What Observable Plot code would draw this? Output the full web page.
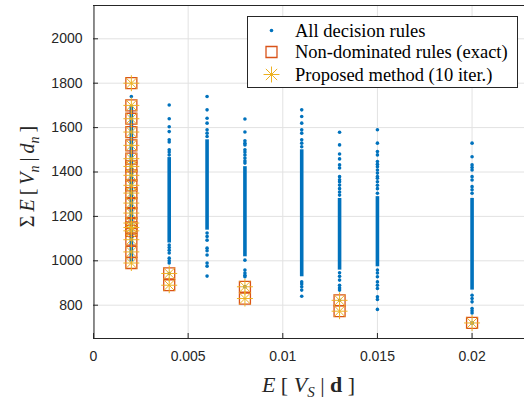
<!DOCTYPE html>
<html><head><meta charset="utf-8">
<script src="https://cdn.jsdelivr.net/npm/d3@7"></script>
<script src="https://cdn.jsdelivr.net/npm/@observablehq/plot@0.6"></script>
<style>
body{margin:0;background:#fff;}
#wrap{position:relative;width:524px;height:399px;overflow:hidden;}
#legend{position:absolute;left:247px;top:16px;}
</style></head><body><div id="wrap"></div>
<script>
// ---- data ----
const xTicks = [0, 0.005, 0.01, 0.015, 0.02];
const yTicks = [800, 1000, 1200, 1400, 1600, 1800, 2000];
const xDomain = [0, 0.02277];
const yDomain = [650, 2150];

// x positions of the decision-rule columns
const ruleColumns = [0.002, 0.004, 0.006, 0.008, 0.011, 0.013, 0.015, 0.02];
// isolated blue points per column
const ruleSparse = [
  [1740],
  [1702, 1640, 1604, 1582, 1545, 1535, 1500, 1490, 1477, 1071, 1060, 1048, 1035, 1012, 1000, 990, 943],
  [1740, 1680, 1642, 1620, 1590, 1575, 1560, 1125, 1110, 1093, 1057, 1045, 1026, 990, 976, 931],
  [1639, 1580, 1541, 1530, 1522, 1500, 1490, 1477, 1463, 1450, 1440, 1003, 958, 945, 935, 928, 883],
  [1680, 1650, 1620, 1590, 1575, 1545, 1530, 1514, 905, 895, 883, 868, 840],
  [1579, 1522, 1481, 1459, 1432, 1418, 1379, 1365, 1356, 1341, 1325, 1310, 1296, 946, 930, 913, 890, 878, 868, 822],
  [1590, 1530, 1492, 1477, 1447, 1435, 1424, 1409, 1395, 1380, 1372, 1356, 1340, 1325, 1304, 958, 945, 928, 905, 890, 875, 838, 826, 781],
  [1530, 1469, 1432, 1420, 1409, 1379, 1364, 1334, 1320, 1304, 845, 830, 815, 785, 775, 765, 720]
];
// densely packed stretches of blue points per column (low, high)
const ruleDenseLow  = [995, 1080, 1138, 1018, 928, 958, 973, 868];
const ruleDenseHigh = [1700, 1465, 1545, 1424, 1500, 1281, 1289, 1281];

// non-dominated rules (exact)
const nonDomColumns = [0.002, 0.004, 0.008, 0.013, 0.02];
const nonDomValues = [
  [1800, 1700, 1640, 1580, 1520, 1460, 1425, 1385, 1340, 1305, 1260, 1215, 1170, 1150, 1135, 1095, 1040, 990],
  [943, 890],
  [883, 830],
  [822, 773],
  [720]
];
// proposed method (10 iter.)
const proposedColumns = [0.002, 0.004, 0.008, 0.013, 0.02];
const proposedValues = [
  [1800, 1700, 1640, 1580, 1520, 1460, 1425, 1385, 1340, 1305, 1260, 1215, 1170, 1150, 1135, 1095, 1040, 990],
  [943, 890],
  [883, 830],
  [822, 773],
  [720]
];

// ---- build tables ----
const sparse = ruleColumns.flatMap((x, i) => ruleSparse[i].map(y => ({x, y})));
const dense = ruleColumns.map((x, i) => ({x, lo: ruleDenseLow[i], hi: ruleDenseHigh[i]}));
const nonDom = nonDomColumns.flatMap((x, i) => nonDomValues[i].map(y => ({x, y})));
const proposed = proposedColumns.flatMap((x, i) => proposedValues[i].map(y => ({x, y})));

const blue = "#0072BD", orange = "#D95319", yellow = "#EDB120", axisCol = "#262626", gridCol = "#e2e2e2";

const W = 524, H = 399, mL = 93, mR = 0, mT = 5, mB = 61;
const fw = W - mL - mR, fh = H - mT - mB;

const chart = Plot.plot({
  width: W, height: H,
  marginLeft: mL, marginRight: mR, marginTop: mT, marginBottom: mB,
  x: {domain: xDomain},
  y: {domain: yDomain},
  style: {fontFamily: "'Liberation Sans', Arial, sans-serif", fontSize: "14px", color: axisCol, background: "white"},
  marks: [
    Plot.gridX(xTicks, {stroke: gridCol, strokeOpacity: 1}),
    Plot.gridY(yTicks, {stroke: gridCol, strokeOpacity: 1}),
    Plot.ruleX(dense, {x: "x", y1: "lo", y2: "hi", stroke: blue, strokeWidth: 3.6}),
    Plot.dot(sparse, {x: "x", y: "y", r: 1.8, fill: blue}),
    Plot.dot(nonDom, {x: "x", y: "y", symbol: "square", r: 6.2, stroke: orange, strokeWidth: 1.3, fill: "none"}),
    Plot.dot(proposed, {x: "x", y: "y", symbol: "plus", r: 5.2, stroke: yellow, strokeWidth: 1}),
    Plot.dot(proposed, {x: "x", y: "y", symbol: "times", r: 5.2, stroke: yellow, strokeWidth: 1}),
    Plot.ruleX([xDomain[0]], {stroke: axisCol, dx: 0.5}),
    Plot.ruleY([yDomain[0]], {stroke: axisCol}),
    Plot.ruleY([yDomain[1]], {stroke: axisCol}),
    Plot.tickY(yTicks, {y: d => d, stroke: axisCol, insetRight: fw - 5}),
    Plot.tickX(xTicks, {x: d => d, stroke: axisCol, insetTop: fh - 5}),
    Plot.axisX(xTicks, {tickSize: 0, tickPadding: 13, label: null, tickFormat: d => String(d)}),
    Plot.axisY(yTicks, {tickSize: 0, tickPadding: 11, label: null, tickFormat: d => String(d)})
  ]
});
document.getElementById("wrap").appendChild(chart);

// ---- axis labels with math formatting ----
const svg = d3.select(chart);
const serif = "'Liberation Serif', 'Times New Roman', serif";
const xl = svg.append("text").attr("x", mL + fw / 2).attr("y", 392).attr("text-anchor", "middle")
  .attr("font-family", serif).attr("font-size", 22).attr("fill", axisCol);
xl.append("tspan").attr("font-style", "italic").text("E");
xl.append("tspan").text(" [ ");
xl.append("tspan").attr("font-style", "italic").text("V");
xl.append("tspan").attr("font-style", "italic").attr("font-size", 15).attr("dy", 5).text("S");
xl.append("tspan").attr("dy", -5).text(" | ");
xl.append("tspan").attr("font-weight", "bold").text("d");
xl.append("tspan").text(" ]");

const yl = svg.append("text").attr("transform", `translate(34,${mT + fh / 2 + 5}) rotate(-90)`).attr("text-anchor", "middle")
  .attr("font-family", serif).attr("font-size", 20).attr("fill", axisCol);
yl.append("tspan").text("\u03A3\u2009");
yl.append("tspan").attr("font-style", "italic").text("E");
yl.append("tspan").text("\u2009[\u2009");
yl.append("tspan").attr("font-style", "italic").text("V");
yl.append("tspan").attr("font-style", "italic").attr("font-size", 14).attr("dy", 5).text("n");
yl.append("tspan").attr("dy", -5).text("\u2009|\u2009");
yl.append("tspan").attr("font-style", "italic").text("d");
yl.append("tspan").attr("font-style", "italic").attr("font-size", 14).attr("dy", 5).text("n");
yl.append("tspan").attr("dy", -5).text("\u2009]");

// ---- legend ----
const legendItems = ["All decision rules", "Non-dominated rules (exact)", "Proposed method (10 iter.)"];
const leg = d3.select("#wrap").append("svg").attr("id", "legend").attr("width", 271).attr("height", 73);
leg.append("rect").attr("x", 0.5).attr("y", 0.5).attr("width", 270).attr("height", 71)
  .attr("fill", "white").attr("stroke", axisCol);
const rowY = [14.5, 36, 58.5];
leg.selectAll("text.lab").data(legendItems).join("text").attr("class", "lab")
  .attr("x", 48).attr("y", (d, i) => rowY[i] + 6)
  .attr("font-family", serif).attr("font-size", 18.5).attr("fill", "#000").text(d => d);
leg.append("circle").attr("cx", 24.5).attr("cy", rowY[0]).attr("r", 1.8).attr("fill", blue);
leg.append("path").attr("d", d3.symbol(d3.symbolSquare, Math.PI * 6.2 * 6.2)()).attr("transform", `translate(24.5,${rowY[1]})`)
  .attr("fill", "none").attr("stroke", orange).attr("stroke-width", 1.3);
leg.append("path").attr("d", d3.symbol(d3.symbolPlus, Math.PI * 5.2 * 5.2)()).attr("transform", `translate(24.5,${rowY[2]})`)
  .attr("fill", "none").attr("stroke", yellow);
leg.append("path").attr("d", d3.symbol(d3.symbolTimes, Math.PI * 5.2 * 5.2)()).attr("transform", `translate(24.5,${rowY[2]})`)
  .attr("fill", "none").attr("stroke", yellow);
</script>
</body></html>
